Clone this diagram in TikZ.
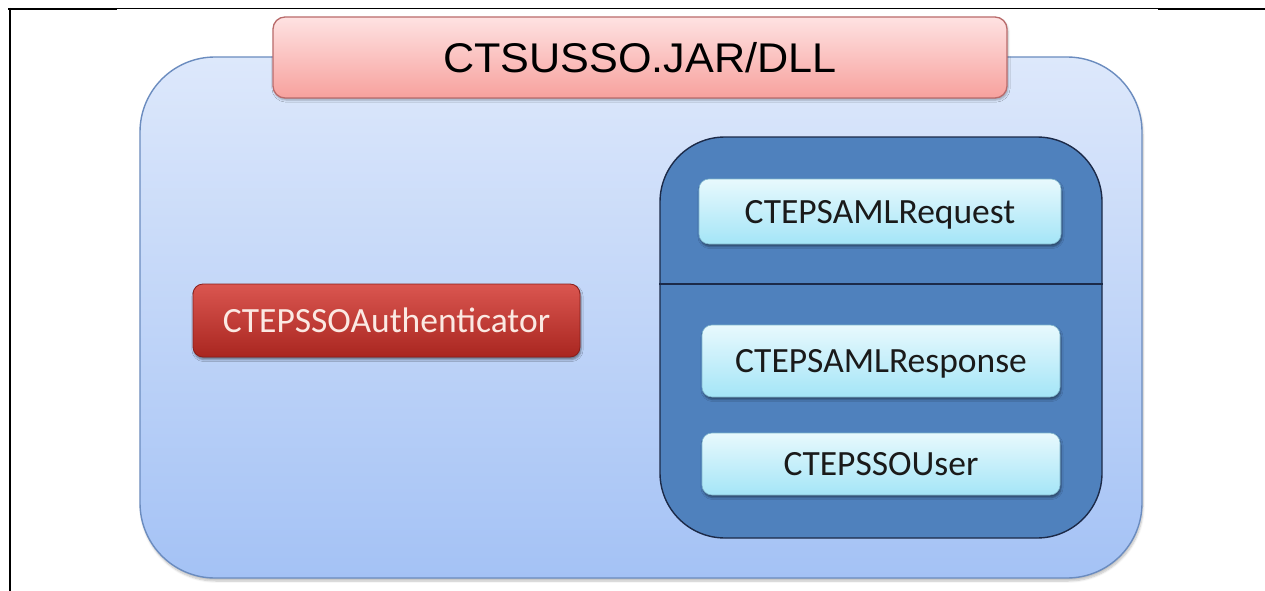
\documentclass[tikz,border=0pt]{standalone}
\usepackage{fontspec}
\setmainfont{Liberation Sans}
\newfontfamily\titlefont[FakeStretch=1.04]{Liberation Sans}
\newfontfamily\calib{Carlito}
\usetikzlibrary{shadows.blur}

\definecolor{outerTop}{HTML}{DDE8FB}
\definecolor{outerBot}{HTML}{A4C2F5}
\definecolor{outerLine}{HTML}{6B8CBF}
\definecolor{pinkTop}{HTML}{FEE2E2}
\definecolor{pinkBot}{HTML}{F7A19D}
\definecolor{pinkLine}{HTML}{B96B6B}
\definecolor{panelFill}{HTML}{4F81BD}
\definecolor{panelLine}{HTML}{1C2A48}
\definecolor{cyanTop}{HTML}{E8F9FD}
\definecolor{cyanBot}{HTML}{A4E5F7}
\definecolor{cyanLine}{HTML}{7FB5CC}
\definecolor{redTop}{HTML}{DA5650}
\definecolor{redBot}{HTML}{A92620}
\definecolor{redLine}{HTML}{8A1E1A}
\definecolor{redText}{HTML}{FBE9E3}
\definecolor{inkText}{HTML}{1A1A1A}

\tikzset{
  container/.style={draw=outerLine, line width=1.4pt, rounded corners=75pt,
    top color=outerTop, bottom color=outerBot, inner sep=0pt,
    blur shadow={shadow xshift=1pt, shadow yshift=-3pt, shadow opacity=25, shadow blur steps=6}},
  titlebox/.style={draw=pinkLine, line width=1.3pt, rounded corners=12pt,
    top color=pinkTop, bottom color=pinkBot, inner sep=0pt,
    font=\titlefont\fontsize{41.5}{41.5}\selectfont, text=black, text height=29.7pt, text depth=0pt,
    blur shadow={shadow xshift=1pt, shadow yshift=-2pt, shadow opacity=30, shadow blur steps=4}},
  panel/.style={draw=panelLine, line width=1.4pt, rounded corners=65pt,
    fill=panelFill, inner sep=0pt},
  classbox/.style={draw=cyanLine, line width=0.6pt, rounded corners=10pt,
    top color=cyanTop, bottom color=cyanBot, inner sep=0pt,
    font=\calib\fontsize{35.5}{35.5}\selectfont, text=inkText,
    text height=23pt, text depth=0pt,
    blur shadow={shadow xshift=1pt, shadow yshift=-2.5pt, shadow opacity=45, shadow blur steps=4}},
  mainclass/.style={draw=redLine, line width=0.8pt, rounded corners=10pt,
    top color=redTop, bottom color=redBot, inner sep=0pt,
    font=\calib\fontsize{35.5}{35.5}\selectfont, text=redText,
    text height=23pt, text depth=0pt,
    blur shadow={shadow xshift=1pt, shadow yshift=-2.5pt, shadow opacity=45, shadow blur steps=4}},
  frameline/.style={draw=black, line cap=butt}
}

\begin{document}
\begin{tikzpicture}[x=1pt, y=-1pt]
  \useasboundingbox (0,0) rectangle (1265,591);

  % page frame fragments
  \draw[frameline, line width=1.2pt] (8,8.5) -- (1265,8.5);
  \draw[frameline, line width=2.2pt] (8,9.2) -- (117,9.2);
  \draw[frameline, line width=2.2pt] (1158,9.4) -- (1265,9.4);
  \draw[frameline, line width=2.2pt] (10,8) -- (10,591);

  % library container
  \node[container, minimum width=1002pt, minimum height=521pt] (lib) at (641,317.5) {};

  % library title
  \node[titlebox, minimum width=734pt, minimum height=81pt] (title) at (640,57.5) {CTSUSSO.JAR/DLL};

  % authenticator class
  \node[mainclass, minimum width=387pt, minimum height=73pt] (auth) at (386.5,320.5) {CTEPSSOAuthenticator};

  % SAML / user panel
  \node[panel, minimum width=442pt, minimum height=401pt] (panel) at (881,337.5) {};
  \coordinate (div) at (881,284);
  \draw[draw=panelLine, line width=1.4pt] (panel.west |- div) -- (panel.east |- div);

  \node[classbox, minimum width=362pt, minimum height=65pt] (req) at (880,211.5) {CTEPSAMLRequest};
  \node[classbox, minimum width=358pt, minimum height=72pt] (resp) at (881,361) {CTEPSAMLResponse};
  \node[classbox, minimum width=358pt, minimum height=62pt] (user) at (881,464) {CTEPSSOUser};
\end{tikzpicture}
\end{document}
